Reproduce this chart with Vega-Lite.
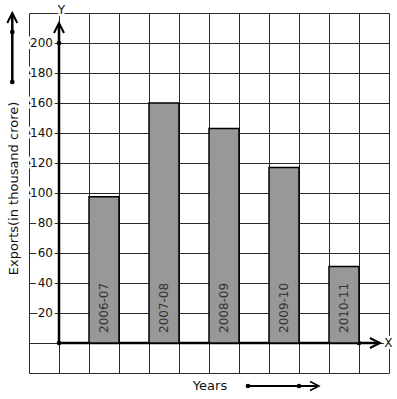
{
  "$schema": "https://vega.github.io/schema/vega-lite/v6.json",
  "width": 360,
  "height": 360,
  "autosize": "none",
  "padding": {"left": 29, "top": 13, "right": 8, "bottom": 26},
  "background": "white",
  "config": {"view": {"stroke": null}, "font": "DejaVu Sans"},
  "datasets": {
    "exports": [
      {"year": "2006-07", "value": 97.5},
      {"year": "2007-08", "value": 160},
      {"year": "2008-09", "value": 143},
      {"year": "2009-10", "value": 117},
      {"year": "2010-11", "value": 51}
    ],
    "yticks": [
      {"v": 20}, {"v": 40}, {"v": 60}, {"v": 80}, {"v": 100},
      {"v": 120}, {"v": 140}, {"v": 160}, {"v": 180}, {"v": 200}
    ],
    "axisdots": [
      {"x": 0, "y": 0}, {"x": 0, "y": 200}, {"x": 10, "y": 0},
      {"x": -1.557, "y": 207.3}, {"x": -1.557, "y": 174},
      {"x": 6.3, "y": -28.67}, {"x": 8.0, "y": -28.67}
    ]
  },
  "layer": [
    {
      "layer": [
        {
          "data": {"values": [{}]},
          "mark": {"type": "rule", "strokeWidth": 2.5, "color": "black"},
          "encoding": {
            "x": {
              "datum": 0, "type": "quantitative",
              "scale": {"domain": [-1, 11], "nice": false, "zero": false},
              "axis": {
                "values": [-1, 0, 1, 2, 3, 4, 5, 6, 7, 8, 9, 10, 11], "tickCount": 30,
                "grid": true, "gridColor": "#2a2a2a", "gridWidth": 1, "gridOpacity": 1,
                "labels": false, "ticks": false, "domain": false,
                "title": "Years", "titleFont": "DejaVu Sans", "titleFontSize": 13,
                "titleFontWeight": "normal", "titleColor": "#111",
                "titleX": 180.5, "titleY": 12, "titleBaseline": "middle", "titleAlign": "center"
              }
            },
            "y": {
              "datum": 0, "type": "quantitative",
              "scale": {"domain": [-20, 220], "nice": false, "zero": false},
              "axis": {
                "values": [-20, 0, 20, 40, 60, 80, 100, 120, 140, 160, 180, 200, 220], "tickCount": 30,
                "grid": true, "gridColor": "#2a2a2a", "gridWidth": 1, "gridOpacity": 1,
                "labels": false, "ticks": false, "domain": false,
                "title": "Exports(in thousand crore)", "titleFont": "DejaVu Sans",
                "titleFontSize": 13, "titleFontWeight": "normal", "titleColor": "#111",
                "titleX": -16, "titleY": 175, "titleAngle": 270,
                "titleBaseline": "middle", "titleAlign": "center"
              }
            },
            "y2": {"datum": 212.7}
          }
        },
        {
          "data": {"values": [{}]},
          "mark": {"type": "rule", "strokeWidth": 2.5, "color": "black"},
          "encoding": {
            "x": {"datum": 0, "type": "quantitative"},
            "x2": {"datum": 10.7},
            "y": {"datum": 0, "type": "quantitative"}
          }
        },
        {
          "data": {"values": [{}]},
          "mark": {"type": "rule", "strokeWidth": 2.5, "color": "black"},
          "encoding": {
            "x": {"datum": -1.557, "type": "quantitative"},
            "y": {"datum": 174, "type": "quantitative"},
            "y2": {"datum": 219.5}
          }
        },
        {
          "data": {"values": [{}]},
          "mark": {"type": "rule", "strokeWidth": 2, "color": "black"},
          "encoding": {
            "x": {"datum": 6.3, "type": "quantitative"},
            "x2": {"datum": 8.6},
            "y": {"datum": -28.67, "type": "quantitative"}
          }
        },
        {
          "data": {"values": [{}]},
          "mark": {"type": "point", "shape": "M-1,1L0,-1L1,1", "filled": false, "color": "black", "strokeWidth": 2, "opacity": 1, "size": 100},
          "encoding": {
            "x": {"datum": 0, "type": "quantitative"},
            "y": {"datum": 210, "type": "quantitative"}
          }
        },
        {
          "data": {"values": [{}]},
          "mark": {"type": "point", "shape": "M-1,1L0,-1L1,1", "filled": false, "color": "black", "strokeWidth": 2, "opacity": 1, "size": 100},
          "encoding": {
            "x": {"datum": -1.557, "type": "quantitative"},
            "y": {"datum": 216.7, "type": "quantitative"}
          }
        },
        {
          "data": {"values": [{}]},
          "mark": {"type": "point", "shape": "M-1,-1L1,0L-1,1", "filled": false, "color": "black", "strokeWidth": 2, "opacity": 1, "size": 100},
          "encoding": {
            "x": {"datum": 10.53, "type": "quantitative"},
            "y": {"datum": 0, "type": "quantitative"}
          }
        },
        {
          "data": {"values": [{}]},
          "mark": {"type": "point", "shape": "M-1,-1L1,0L-1,1", "filled": false, "color": "black", "strokeWidth": 1.5, "opacity": 1, "size": 81},
          "encoding": {
            "x": {"datum": 8.517, "type": "quantitative"},
            "y": {"datum": -28.67, "type": "quantitative"}
          }
        },
        {
          "data": {"name": "axisdots"},
          "mark": {"type": "circle", "color": "black", "opacity": 1, "size": 22},
          "encoding": {
            "x": {"field": "x", "type": "quantitative"},
            "y": {"field": "y", "type": "quantitative"}
          }
        },
        {
          "data": {"name": "yticks"},
          "mark": {"type": "text", "align": "right", "baseline": "middle", "fontSize": 12, "fill": "white", "stroke": "white", "strokeWidth": 5, "strokeJoin": "round"},
          "encoding": {
            "x": {"datum": -0.2, "type": "quantitative"},
            "y": {"field": "v", "type": "quantitative"},
            "text": {"field": "v"}
          }
        },
        {
          "data": {"name": "yticks"},
          "mark": {"type": "text", "align": "right", "baseline": "middle", "fontSize": 12, "fill": "#111"},
          "encoding": {
            "x": {"datum": -0.2, "type": "quantitative"},
            "y": {"field": "v", "type": "quantitative"},
            "text": {"field": "v"}
          }
        },
        {
          "data": {"values": [{"t": "Y", "x": 0.077, "y": 221.7}, {"t": "X", "x": 10.98, "y": 0.3}]},
          "mark": {"type": "text", "align": "center", "baseline": "middle", "fontSize": 12, "fill": "white", "stroke": "white", "strokeWidth": 5, "strokeJoin": "round"},
          "encoding": {
            "x": {"field": "x", "type": "quantitative"},
            "y": {"field": "y", "type": "quantitative"},
            "text": {"field": "t"}
          }
        },
        {
          "data": {"values": [{"t": "Y", "x": 0.077, "y": 221.7}, {"t": "X", "x": 10.98, "y": 0.3}]},
          "mark": {"type": "text", "align": "center", "baseline": "middle", "fontSize": 12, "fill": "#111"},
          "encoding": {
            "x": {"field": "x", "type": "quantitative"},
            "y": {"field": "y", "type": "quantitative"},
            "text": {"field": "t"}
          }
        }
      ]
    },
    {
      "data": {"name": "exports"},
      "encoding": {
        "x": {
          "field": "year", "type": "nominal", "sort": null,
          "scale": {"paddingInner": 0.5, "paddingOuter": 0.75, "align": 0.6667},
          "axis": null
        }
      },
      "layer": [
        {
          "mark": {"type": "bar", "fill": "#989898", "stroke": "black", "strokeWidth": 1.5},
          "encoding": {
            "y": {"field": "value", "type": "quantitative", "scale": {"domain": [-20, 220], "nice": false, "zero": false}},
            "y2": {"datum": 0}
          }
        },
        {
          "mark": {"type": "text", "angle": 270, "align": "left", "baseline": "middle", "fontSize": 12, "fill": "#333", "yOffset": -10},
          "encoding": {
            "y": {"datum": 0, "type": "quantitative"},
            "text": {"field": "year"}
          }
        }
      ]
    }
  ],
  "resolve": {"scale": {"x": "independent"}, "axis": {"x": "independent"}}
}
